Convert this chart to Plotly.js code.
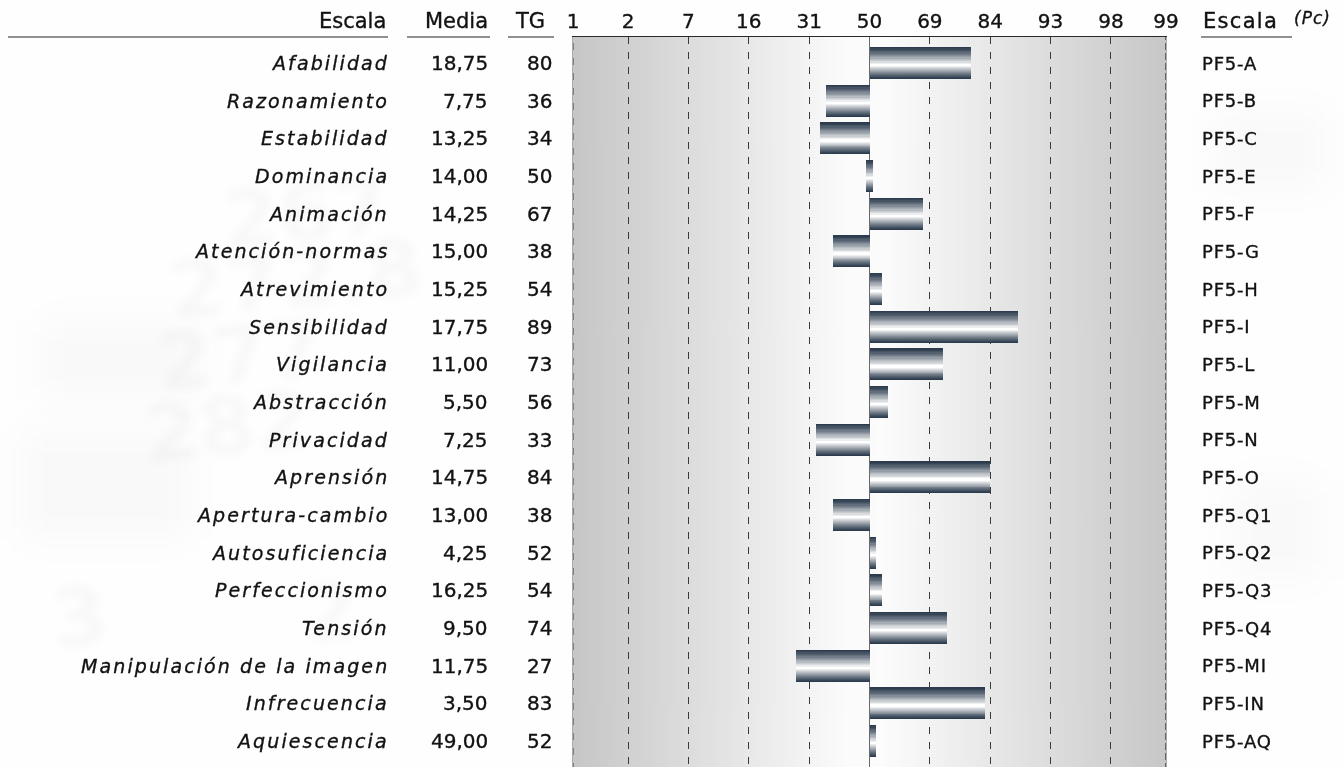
<!DOCTYPE html>
<html><head><meta charset="utf-8">
<script src="https://cdn.plot.ly/plotly-3.0.1.min.js"></script>
<style>
html,body{margin:0;padding:0;overflow:hidden;background:#fff;width:1344px;height:767px;}
#wm{position:absolute;left:0;top:0;}
#chart{position:absolute;left:0;top:0;width:1344px;height:800px;}
#chart .annotation-text, #chart .xtick text{stroke:#111;stroke-width:0.35px;paint-order:stroke;}
</style></head><body>
<canvas id="wm" width="1344" height="800"></canvas>
<div id="chart"></div>
<script>
// ---- data ----
const scales = ["Afabilidad","Razonamiento","Estabilidad","Dominancia","Animación","Atención-normas","Atrevimiento","Sensibilidad","Vigilancia","Abstracción","Privacidad","Aprensión","Apertura-cambio","Autosuficiencia","Perfeccionismo","Tensión","Manipulación de la imagen","Infrecuencia","Aquiescencia"];
const medias = ["18,75","7,75","13,25","14,00","14,25","15,00","15,25","17,75","11,00","5,50","7,25","14,75","13,00","4,25","16,25","9,50","11,75","3,50","49,00"];
const tg = [80,36,34,50,67,38,54,89,73,56,33,84,38,52,54,74,27,83,52];
const codes = ["PF5-A","PF5-B","PF5-C","PF5-E","PF5-F","PF5-G","PF5-H","PF5-I","PF5-L","PF5-M","PF5-N","PF5-O","PF5-Q1","PF5-Q2","PF5-Q3","PF5-Q4","PF5-MI","PF5-IN","PF5-AQ"];
const tickLabels = ["1","2","7","16","31","50","69","84","93","98","99"];
const tickZ = [-2.455,-2,-1.5,-1,-0.5,0,0.5,1,1.5,2,2.455];

// percentile -> normal deviate (probit scale of the profile)
function probit(p){
 const a=[-3.969683028665376e+01,2.209460984245205e+02,-2.759285104469687e+02,1.383577518672690e+02,-3.066479806614716e+01,2.506628277459239e+00];
 const b=[-5.447609879822406e+01,1.615858368580409e+02,-1.556989798598866e+02,6.680131188771972e+01,-1.328068155288572e+01];
 const c=[-7.784894002430293e-03,-3.223964580411365e-01,-2.400758277161838e+00,-2.549732539343734e+00,4.374664141464968e+00,2.938163982698783e+00];
 const d=[7.784695709041462e-03,3.224671290700398e-01,2.445134137142996e+00,3.754408661907416e+00];
 const pl=0.02425, ph=1-pl; let q,r;
 if(p<pl){q=Math.sqrt(-2*Math.log(p));return (((((c[0]*q+c[1])*q+c[2])*q+c[3])*q+c[4])*q+c[5])/((((d[0]*q+d[1])*q+d[2])*q+d[3])*q+1);}
 if(p<=ph){q=p-0.5;r=q*q;return (((((a[0]*r+a[1])*r+a[2])*r+a[3])*r+a[4])*r+a[5])*q/(((((b[0]*r+b[1])*r+b[2])*r+b[3])*r+b[4])*r+1);}
 q=Math.sqrt(-2*Math.log(1-p));return -(((((c[0]*q+c[1])*q+c[2])*q+c[3])*q+c[4])*q+c[5])/((((d[0]*q+d[1])*q+d[2])*q+d[3])*q+1);
}
const z = tg.map(v => probit(v/100));
const MINH = 0.033;
const barBase = z.map(v => Math.abs(v) < MINH ? -MINH : 0);
const barLen = z.map(v => Math.abs(v) < MINH ? 2*MINH : v);

// ---- watermark background (image-like, very faint) ----
(function(){
 const cv=document.getElementById('wm'), ctx=cv.getContext('2d');
 ctx.fillStyle='#fefefe'; ctx.fillRect(0,0,1344,800);
 ctx.save(); ctx.filter='blur(4px)'; ctx.fillStyle='rgba(0,0,0,0.022)';
 ctx.font='bold 80px DejaVu Sans';
 ctx.rotate(-0.1);
 [["267",200,270],["272.8",140,335],["277",120,405],["282",100,475],["3",-10,650],["2",240,670]].forEach(t=>ctx.fillText(t[0],t[1],t[2]));
 ctx.restore();
 ctx.save(); ctx.filter='blur(18px)'; ctx.fillStyle='rgba(0,0,0,0.018)';
 [[40,320,160,80],[20,430,170,110],[1215,110,110,80],[1230,480,90,100]].forEach(r=>ctx.fillRect(r[0],r[1],r[2],r[3]));
 ctx.restore();
})();

// ---- plot-area gradient ----
function bgURL(){
 const cv=document.createElement('canvas'); cv.width=600; cv.height=4;
 const ctx=cv.getContext('2d'); const g=ctx.createLinearGradient(0,0,600,0);
 g.addColorStop(0,'#c6c6c6'); g.addColorStop(0.46,'#fbfbfb'); g.addColorStop(0.52,'#fcfcfc'); g.addColorStop(1,'#c7c7c7');
 ctx.fillStyle=g; ctx.fillRect(0,0,600,4); return cv.toDataURL();
}

// ---- bars: overlaid layers form a metallic gradient ----
const N = 14, W = 0.85, cFrac = 0.57;
const top0 = -W/2, bot0 = W/2, cOff = top0 + cFrac*W;
const dark = [44,60,78];
const traces = [];
for(let k=0;k<N;k++){
 const t = k/N;
 const tk = top0 + (cOff-top0)*t, bk = bot0 - (bot0-cOff)*t;
 const m = Math.pow(k/(N-1),1.15);
 const col = 'rgb('+dark.map(v=>Math.round(v+(255-v)*m)).join(',')+')';
 traces.push({type:'bar', orientation:'h', y:scales, x:barLen, base:barBase,
   offset:tk, width:bk-tk, marker:{color:col, line:{width:0}}, hoverinfo:'skip'});
}

// ---- helpers for pixel placement of table text ----
const L=573, PW=593, T=37, H=800, PH=H-T;
const px = p => (p-L)/PW;
const py = p => (H-p)/PH;
const FF = 'DejaVu Sans';
const ann = [];
scales.forEach((s,i)=>{
 ann.push({xref:'paper', yref:'y', x:px(391), y:s, xanchor:'right', yanchor:'middle', showarrow:false,
  text:'<span style="letter-spacing:2.1px">'+s+'</span>', font:{family:FF, size:19, style:'italic', color:'#111'}});
 ann.push({xref:'paper', yref:'y', x:px(490), y:s, xanchor:'right', yanchor:'middle', showarrow:false,
  text:medias[i], font:{family:FF, size:20, color:'#111'}});
 ann.push({xref:'paper', yref:'y', x:px(554), y:s, xanchor:'right', yanchor:'middle', showarrow:false,
  text:String(tg[i]), font:{family:FF, size:20, color:'#111'}});
 ann.push({xref:'paper', yref:'y', x:px(1200), y:s, xanchor:'left', yanchor:'middle', showarrow:false,
  text:'<span style="letter-spacing:0.8px">'+codes[i]+'</span>', font:{family:FF, size:18, color:'#111'}});
});
const hdr = (t,x,anchor,size,extra) => ({xref:'paper', yref:'paper', x:px(x), y:py(21), xanchor:anchor, yanchor:'middle', showarrow:false, text:t, font:Object.assign({family:FF, size:size, color:'#111'}, extra||{})});
ann.push(hdr('Escala',388,'right',21));
ann.push(hdr('Media',490,'right',21));
ann.push(hdr('TG',547,'right',21));
ann.push(hdr('<span style="letter-spacing:1.3px">Escala</span>',1201,'left',21));
ann.push({xref:'paper', yref:'paper', x:px(1292), y:py(18), xanchor:'left', yanchor:'middle', showarrow:false,
  text:'<span style="letter-spacing:1px">(Pc)</span>', font:{family:FF, size:17, style:'italic', color:'#111'}});

const uline = (a,b) => ({type:'line', xref:'paper', yref:'paper', x0:px(a), x1:px(b), y0:py(37), y1:py(37), line:{color:'#222', width:1}});
const shapes = [uline(8,388), uline(407,490), uline(508,554), uline(1201,1292),
 {type:'line', xref:'x', yref:'paper', x0:-2.4555, x1:-2.4555, y0:0, y1:1, line:{color:'#444', width:1, dash:'7px,8px'}},
 {type:'line', xref:'x', yref:'paper', x0:2.4555, x1:2.4555, y0:0, y1:1, line:{color:'#333', width:1.2, dash:'7px,3px'}}
];

const layout = {
 width:1344, height:800,
 margin:{l:L, r:1344-L-PW, t:T, b:0, pad:0},
 paper_bgcolor:'rgba(0,0,0,0)', plot_bgcolor:'rgba(0,0,0,0)',
 barmode:'overlay', bargap:0, showlegend:false,
 font:{family:FF, color:'#111'},
 xaxis:{side:'top', range:[-2.456,2.456], tickmode:'array', tickvals:tickZ, ticktext:tickLabels,
  ticks:'', tickfont:{family:FF, size:20, color:'#111'},
  showgrid:true, gridcolor:'#3a3a3a', gridwidth:1, griddash:'7px,8px',
  zeroline:true, zerolinecolor:'#6a6a6a', zerolinewidth:1,
  showline:true, linecolor:'#2a2a2a', linewidth:1, fixedrange:true},
 yaxis:{type:'category', range:[(H-63)/37.67, -(63-T)/37.67], showticklabels:false, ticks:'',
  showgrid:false, zeroline:false, showline:true, mirror:true, linecolor:'#aaaaaa', linewidth:1, fixedrange:true},
 images:[{source:bgURL(), xref:'paper', yref:'paper', x:0, y:1, sizex:1, sizey:1, sizing:'stretch', layer:'below', xanchor:'left', yanchor:'top'}],
 shapes:shapes, annotations:ann
};
Plotly.newPlot('chart', traces, layout, {displayModeBar:false, staticPlot:true});
</script>
</body></html>
